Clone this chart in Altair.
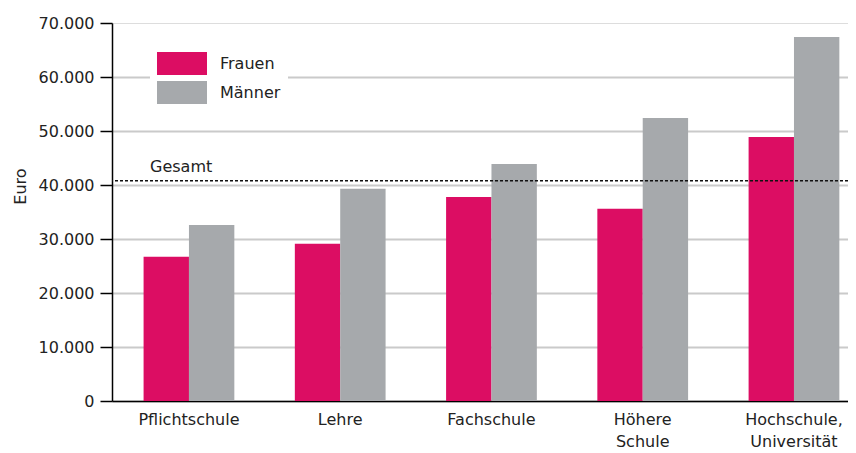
import altair as alt
import pandas as pd

categories = ["Pflichtschule", "Lehre", "Fachschule", "Höhere Schule", "Hochschule, Universität"]
frauen = [26700, 29100, 37800, 35600, 48900]
maenner = [32600, 39300, 43900, 52400, 67400]
series = ["Frauen", "Männer"]
colors = ["#dc0d63", "#a6a9ac"]
gesamt = 40800
y_ticks = [0, 10000, 20000, 30000, 40000, 50000, 60000, 70000]

FONT = "DejaVu Sans"

rows = []
for c, f, m in zip(categories, frauen, maenner):
    rows.append({"Bildung": c, "Geschlecht": "Frauen", "Euro": f})
    rows.append({"Bildung": c, "Geschlecht": "Männer", "Euro": m})
df = pd.DataFrame(rows)
gdf = pd.DataFrame({"Euro": [gesamt], "label": ["Gesamt"]})

bars = alt.Chart(df).mark_bar().encode(
    x=alt.X("Bildung:N", sort=categories, title=None,
            scale=alt.Scale(paddingInner=0.4, paddingOuter=0.133, align=0.785),
            axis=alt.Axis(labelExpr="split(datum.label, ' ')", labelAngle=0,
                          labelFontSize=16, labelFont=FONT, labelColor="#222",
                          labelPadding=10, labelLineHeight=22,
                          ticks=False, domainColor="#000", domainWidth=1.5,
                          grid=False)),
    xOffset=alt.XOffset("Geschlecht:N", sort=series,
                        scale=alt.Scale(paddingInner=0, paddingOuter=0)),
    y=alt.Y("Euro:Q", title="Euro",
            scale=alt.Scale(domain=[0, 70000], nice=False),
            axis=alt.Axis(values=y_ticks,
                          labelExpr="replace(format(datum.value, ',d'), ',', '.')",
                          labelFontSize=16, labelFont=FONT, labelColor="#222",
                          labelPadding=6, tickSize=12, tickColor="#000", tickWidth=1.5,
                          domainColor="#000", domainWidth=1.5,
                          grid=True, gridColor="#cacaca", gridWidth=2,
                          gridOpacity=alt.condition("datum.value >= 70000", alt.value(0), alt.value(1)),
                          titleFont=FONT, titleFontSize=16, titleFontWeight="normal",
                          titleColor="#222", titleX=-92, titleY=163,
                          titleAlign="center", titleBaseline="middle", titleAngle=-90)),
    color=alt.Color("Geschlecht:N", sort=series,
                    scale=alt.Scale(domain=series, range=colors),
                    legend=alt.Legend(title=None, orient="none", legendX=38, legendY=22,
                                      fillColor="white", padding=7,
                                      symbolType="M-2.174,-1H2.174V1H-2.174Z", symbolSize=529,
                                      symbolOffset=13.5,
                                      symbolStrokeWidth=0, symbolOpacity=1,
                                      labelFontSize=16, labelFont=FONT, labelColor="#222",
                                      labelOffset=26.5, rowPadding=6)),
)

rule = alt.Chart(gdf).mark_rule(color="#111", strokeWidth=1.5, strokeDash=[3, 2]).encode(
    y="Euro:Q"
)

text = alt.Chart(gdf).mark_text(align="left", baseline="alphabetic", dy=-9,
                                fontSize=16, font=FONT, color="#222").encode(
    y="Euro:Q", x=alt.value(38), text="label:N"
)

chart = alt.layer(bars, rule, text).properties(
    width=736, height=378,
    autosize=alt.AutoSizeParams(type="none"),
    padding={"left": 104, "top": 15, "right": 0, "bottom": 50},
).configure_view(stroke=None).configure(background="white")

chart.save("out.html", embed_options={"renderer": "svg", "actions": False})
